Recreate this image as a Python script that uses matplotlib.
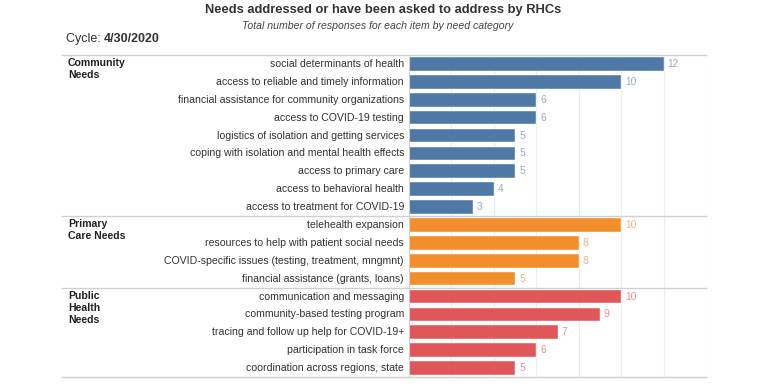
import matplotlib
matplotlib.use("Agg")
import matplotlib.pyplot as plt
from matplotlib.transforms import blended_transform_factory

plt.rcParams['font.family'] = ['Liberation Sans', 'DejaVu Sans']

groups = ["Community\nNeeds", "Primary\nCare Needs", "Public\nHealth\nNeeds"]
community_items = ["social determinants of health", "access to reliable and timely information",
                   "financial assistance for community organizations", "access to COVID-19 testing",
                   "logistics of isolation and getting services", "coping with isolation and mental health effects",
                   "access to primary care", "access to behavioral health", "access to treatment for COVID-19"]
community_vals = [12, 10, 6, 6, 5, 5, 5, 4, 3]
primary_items = ["telehealth expansion", "resources to help with patient social needs",
                 "COVID-specific issues (testing, treatment, mngmnt)", "financial assistance (grants, loans)"]
primary_vals = [10, 8, 8, 5]
public_items = ["communication and messaging", "community-based testing program",
                "tracing and follow up help for COVID-19+", "participation in task force",
                "coordination across regions, state"]
public_vals = [10, 9, 7, 6, 5]

colors = ["#4e79a7", "#f28e2b", "#e15759"]
label_colors = ["#9aaac2", "#f6b47c", "#ee8e90"]

W, H = 768, 391
fig = plt.figure(figsize=(W/100, H/100), dpi=100)
x0, x1, y0, y1 = 409, 706, 55, 377
ax = fig.add_axes([x0/W, 1 - y1/H, (x1-x0)/W, (y1-y0)/H])

all_groups = [(community_items, community_vals), (primary_items, primary_vals), (public_items, public_vals)]
n = sum(len(g[0]) for g in all_groups)
ax.set_xlim(0, 14)
ax.set_ylim(n - 0.5, -0.5)
ax.set_xticks(range(0, 15, 2))
ax.grid(axis='x', color='#ececec', lw=0.8)
ax.set_axisbelow(True)
ax.tick_params(left=False, bottom=False, labelleft=False, labelbottom=False)
for s in ax.spines.values():
    s.set_visible(False)
ax.axvline(0, color='#d0d0d0', lw=0.8)

trans = blended_transform_factory(ax.transAxes, ax.transData)
lab_x = (404 - x0) / (x1 - x0)
grp_x = (68 - x0) / (x1 - x0)
sep_x = (62 - x0) / (x1 - x0)

row = 0
boundaries = [-0.5]
for gi, (items, vals) in enumerate(all_groups):
    ys = list(range(row, row + len(items)))
    ax.barh(ys, vals, height=0.76, color=colors[gi], edgecolor='white', linewidth=0.3)
    for y, it, v in zip(ys, items, vals):
        ax.text(lab_x, y, it, transform=trans, ha='right', va='center', fontsize=7.6, color='#333333', clip_on=False)
        ax.text(v + 0.19, y, str(v), ha='left', va='center', fontsize=7.4, color=label_colors[gi])
    ax.text(grp_x, row - 0.33, groups[gi], transform=trans, ha='left', va='top', fontsize=7.6,
            fontweight='bold', color='#222222', clip_on=False, linespacing=1.3)
    row += len(items)
    boundaries.append(row - 0.5)

for b in boundaries:
    ax.plot([sep_x, 1], [b, b], transform=trans, color='#d0d0d0', lw=1.0, clip_on=False)

fig.text(383/W, 1 - 10/H, "Needs addressed or have been asked to address by RHCs", ha='center', va='center',
         fontsize=9.3, fontweight='bold', color='#333333')
fig.text(378/W, 1 - 26/H, "Total number of responses for each item by need category", ha='center', va='center',
         fontsize=7.6, style='italic', color='#444444')
t = fig.text(66/W, 1 - 39/H, "Cycle: ", ha='left', va='center', fontsize=9, color='#333333')
fig.canvas.draw()
bb = t.get_window_extent()
fig.text(bb.x1/W, 1 - 39/H, "4/30/2020", ha='left', va='center', fontsize=9, fontweight='bold', color='#333333')

fig.savefig("out.png", dpi=100)
